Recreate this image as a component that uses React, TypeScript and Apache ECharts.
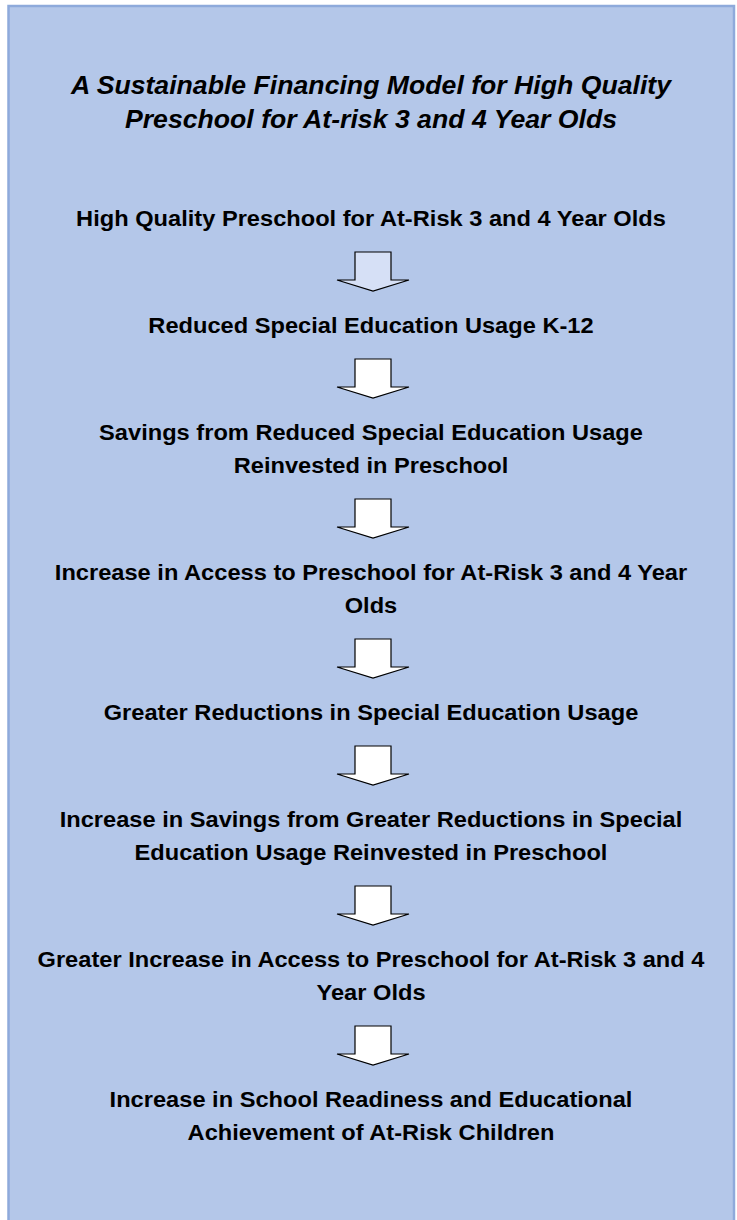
import React, { useEffect, useRef } from "react";
import * as echarts from "echarts";

const titleLines = [
  "A Sustainable Financing Model for High Quality",
  "Preschool for At-risk 3 and 4 Year Olds",
];

const steps: string[][] = [
  ["High Quality Preschool for At-Risk 3 and 4 Year Olds"],
  ["Reduced Special Education Usage K-12"],
  ["Savings from Reduced Special Education Usage", "Reinvested in Preschool"],
  ["Increase in Access to Preschool for At-Risk 3 and 4 Year", "Olds"],
  ["Greater Reductions in Special Education Usage"],
  ["Increase in Savings from Greater Reductions in Special", "Education Usage Reinvested in Preschool"],
  ["Greater Increase in Access to Preschool for At-Risk 3 and 4", "Year Olds"],
  ["Increase in School Readiness and Educational", "Achievement of At-Risk Children"],
];

const arrowFills = ["#d6e0f6", "#ffffff", "#ffffff", "#ffffff", "#ffffff", "#ffffff", "#ffffff"];

export default function App() {
  const ref = useRef<HTMLDivElement>(null);
  useEffect(() => {
    if (!ref.current) return;
    const chart = echarts.init(ref.current, undefined, { renderer: "svg" });
    const cx = 371;
    const ax = 373;
    const L = 33;
    const g1 = 34;
    const ah = 39;
    const g2 = 34;
    const font = "'Liberation Sans', Arial, sans-serif";
    const elements: any[] = [];
    elements.push({
      type: "rect",
      shape: { x: 8.5, y: 6, width: 725.5, height: 1230 },
      style: { fill: "#b4c7e9", stroke: "#8eaadb", lineWidth: 2.5 },
    });
    titleLines.forEach((t, i) => {
      elements.push({
        type: "text",
        x: cx,
        y: 85 + i * 34,
        scaleX: 1.045,
        style: {
          text: t,
          fontFamily: font,
          fontSize: 25.5,
          fontWeight: "bold",
          fontStyle: "italic",
          fill: "#000",
          align: "center",
          verticalAlign: "middle",
        },
      });
    });
    let y = 218;
    steps.forEach((lines, si) => {
      lines.forEach((t, li) => {
        elements.push({
          type: "text",
          x: cx,
          y: y + li * L,
          scaleX: 1.075,
          style: {
            text: t,
            fontFamily: font,
            fontSize: 22,
            fontWeight: "bold",
            fill: "#000",
            align: "center",
            verticalAlign: "middle",
          },
        });
      });
      const last = y + (lines.length - 1) * L;
      if (si < steps.length - 1) {
        const top = last + g1;
        const neck = top + 28;
        const tip = top + ah;
        elements.push({
          type: "polygon",
          shape: {
            points: [
              [ax - 18, top],
              [ax + 18, top],
              [ax + 18, neck],
              [ax + 36, neck],
              [ax, tip],
              [ax - 36, neck],
              [ax - 18, neck],
            ],
          },
          style: { fill: arrowFills[si], stroke: "#000", lineWidth: 1.2 },
        });
        y = tip + g2;
      }
    });
    chart.setOption({ animation: false, graphic: { elements } });
    return () => chart.dispose();
  }, []);
  return (
    <div
      ref={ref}
      style={{ position: "fixed", left: 0, top: 0, width: 737, height: 1220, background: "#fff" }}
    />
  );
}
